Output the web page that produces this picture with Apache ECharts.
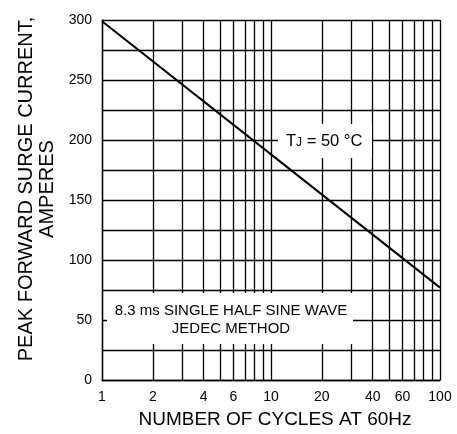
<!DOCTYPE html>
<html><head><meta charset="utf-8">
<script src="https://cdn.jsdelivr.net/npm/echarts@6/dist/echarts.min.js"></script>
<style>html,body{margin:0;padding:0;background:#fff}#c{width:457px;height:434px}</style>
</head><body><div id="c"></div>
<script>
const cycles = [1, 10, 100];
const surgeCurrent = [299, 188, 77];
const gridXValues = [1,2,3,4,5,6,7,8,9,10,20,30,40,50,60,70,80,90,100];
const xTickLabels = [1,2,4,6,10,20,40,60,100];
const yMin = 0, yMax = 300, yStep = 25, yLabelStep = 50;
const noteLines = ['8.3 ms SINGLE HALF SINE WAVE', 'JEDEC METHOD'];

const font = 'Liberation Sans, Arial, sans-serif';
const chart = echarts.init(document.getElementById('c'), null, {renderer: 'canvas'});
chart.setOption({
  animation: false,
  backgroundColor: '#fff',
  grid: {left: 102, right: 17, top: 20, bottom: 54},
  xAxis: {
    type: 'log', logBase: 10, min: 1, max: 100,
    name: 'NUMBER OF CYCLES AT 60Hz', nameLocation: 'middle', nameGap: 30,
    nameTextStyle: {fontFamily: font, fontSize: 19, color: '#000', padding: [0, 0, 0, 8]},
    axisLine: {show: true, lineStyle: {color: '#000', width: 1.3}},
    axisTick: {show: false, customValues: gridXValues},
    axisLabel: {customValues: xTickLabels, fontFamily: font, fontSize: 14, color: '#000', margin: 10},
    splitLine: {show: true, lineStyle: {color: '#000', width: 1.3}},
    minorSplitLine: {show: false}
  },
  yAxis: {
    type: 'value', min: yMin, max: yMax, interval: yStep,
    name: 'PEAK FORWARD SURGE CURRENT,\nAMPERES', nameLocation: 'middle', nameGap: 44, nameRotate: 90,
    nameTextStyle: {fontFamily: font, fontSize: 20, color: '#000', lineHeight: 21, padding: [0, 0, 0, 22]},
    axisLine: {show: true, lineStyle: {color: '#000', width: 1.3}},
    axisTick: {show: false},
    axisLabel: {fontFamily: font, fontSize: 14, color: '#000', margin: 10,
      formatter: v => (v % yLabelStep === 0 ? String(v) : '')},
    splitLine: {show: true, lineStyle: {color: '#000', width: 1.3}}
  },
  series: [{
    type: 'line', data: cycles.map((c, i) => [c, surgeCurrent[i]]),
    symbol: 'none', lineStyle: {color: '#000', width: 2}, z: 5
  }],
  graphic: [
    {type: 'rect', shape: {x: 278, y: 124, width: 94, height: 34}, style: {fill: '#fff'}, z: 10},
    {type: 'text', x: 286, y: 141, z: 11, style: {
      text: '{t|T}{j|J}{t| = 50 °C}', verticalAlign: 'middle',
      rich: {t: {fontFamily: font, fontSize: 16.5, fill: '#000'}, j: {fontFamily: font, fontSize: 12, fill: '#000', padding: [4, 0, 0, 0]}}
    }},
    {type: 'rect', shape: {x: 107, y: 293, width: 246, height: 51}, style: {fill: '#fff'}, z: 10},
    {type: 'text', x: 231, y: 311, z: 11, style: {text: noteLines[0], fontFamily: font, fontSize: 15, fill: '#000', align: 'center', verticalAlign: 'middle'}},
    {type: 'text', x: 231, y: 329, z: 11, style: {text: noteLines[1], fontFamily: font, fontSize: 15, fill: '#000', align: 'center', verticalAlign: 'middle'}}
  ]
});
</script></body></html>
